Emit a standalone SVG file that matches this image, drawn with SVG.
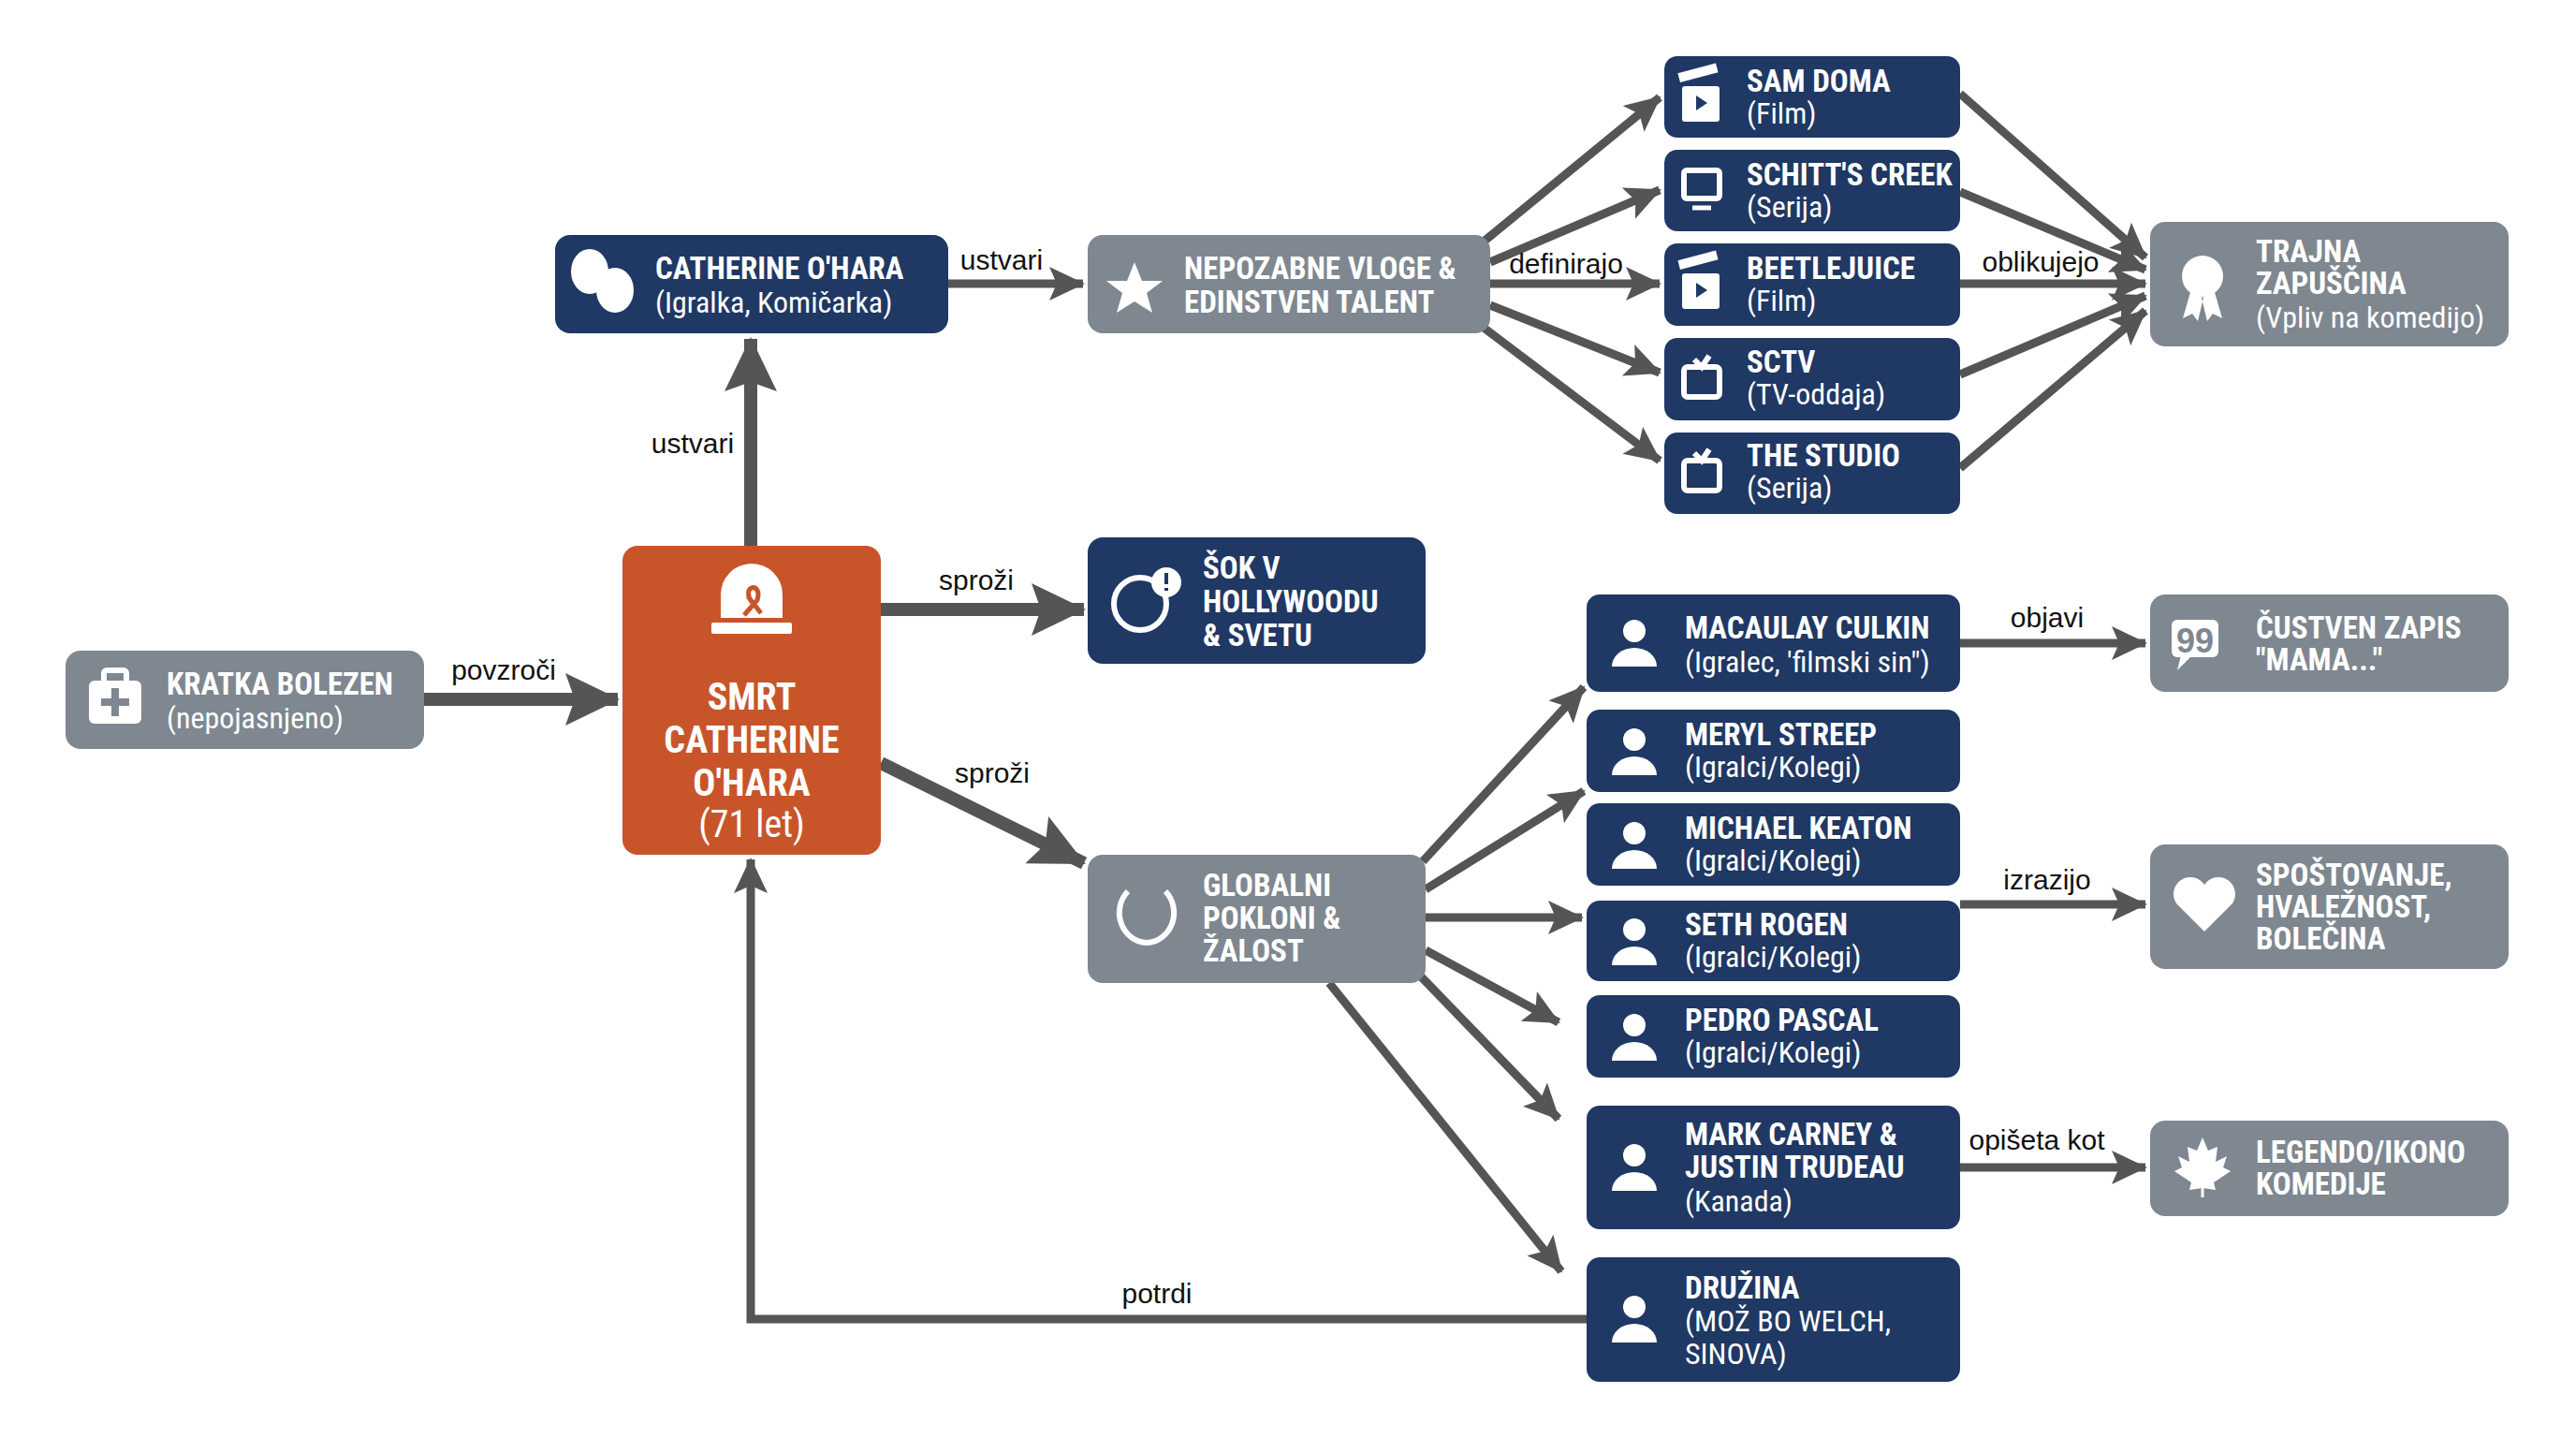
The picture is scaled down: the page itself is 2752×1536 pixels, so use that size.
<svg xmlns="http://www.w3.org/2000/svg" width="2752" height="1536" viewBox="0 0 2752 1536">
<defs>
<marker id="ah" markerUnits="userSpaceOnUse" markerWidth="40" markerHeight="40" refX="36" refY="20" orient="auto"><path d="M0,2 L38,20 L0,38 L8,20 Z" fill="#555"/></marker>
<marker id="ahb" markerUnits="userSpaceOnUse" markerWidth="60" markerHeight="60" refX="56" refY="30" orient="auto"><path d="M0,2 L58,30 L0,58 L10,30 Z" fill="#555"/></marker>
<style>
.navy{fill:#1F3864}.gray{fill:#7F8790}.org{fill:#C8552A}
.t{font-family:"Liberation Sans Narrow","Roboto Condensed","Liberation Sans",sans-serif;fill:#fff}
.b{font-weight:bold;font-size:33px}.s{font-size:32px}
.big-t{font-weight:bold;font-size:40px}
.l{font-family:"Liberation Sans Narrow","Liberation Sans",sans-serif;font-size:30px;fill:#111}
.c path,.c polyline{fill:none;stroke:#555;stroke-width:9;marker-end:url(#ah)}
.c .big{stroke-width:14;marker-end:url(#ahb)}
.ic{fill:#fff}.ics{fill:none;stroke:#fff;stroke-width:6}
</style>
</defs>
<rect width="2752" height="1536" fill="#fff"/>
<g class="c" id="connectors">
<path class="big" d="M453,747 H660"/><path class="big" d="M802,583 V362"/><path d="M1013,303 H1157"/>
<path d="M1585,258 L1773,104"/><path d="M1592,280 L1773,203"/><path d="M1592,303 H1773"/><path d="M1592,326 L1773,398"/><path d="M1585,350 L1773,492"/>
<path d="M2094,100 L2292,275"/><path d="M2094,205 L2292,288"/><path d="M2094,303 H2292"/><path d="M2094,400 L2292,316"/><path d="M2094,500 L2292,332"/>
<path class="big" d="M941,651 H1158"/><path class="big" d="M941,815 L1158,922"/>
<path d="M1520,920 L1692,734"/><path d="M1523,950 L1692,845"/><path d="M1523,980 H1690"/><path d="M1523,1015 L1665,1092"/><path d="M1515,1040 L1665,1195"/><path d="M1420,1050 L1668,1358"/>
<path d="M2094,687 H2292"/><path d="M2094,966 H2292"/><path d="M2094,1247 H2292"/>
<polyline points="1695,1409 802,1409 802,918"/>
</g>
<g id="labels">
<text class="l" x="538" y="726" text-anchor="middle">povzroči</text>
<text class="l" x="740" y="484" text-anchor="middle">ustvari</text>
<text class="l" x="1070" y="288" text-anchor="middle">ustvari</text>
<text class="l" x="1673" y="292" text-anchor="middle">definirajo</text>
<text class="l" x="2180" y="290" text-anchor="middle">oblikujejo</text>
<text class="l" x="1043" y="630" text-anchor="middle">sproži</text>
<text class="l" x="1060" y="836" text-anchor="middle">sproži</text>
<text class="l" x="2187" y="670" text-anchor="middle">objavi</text>
<text class="l" x="2187" y="950" text-anchor="middle">izrazijo</text>
<text class="l" x="2176" y="1228" text-anchor="middle">opišeta kot</text>
<text class="l" x="1236" y="1392" text-anchor="middle">potrdi</text>
</g>
<g id="kratka"><rect class="gray" x="70" y="695" width="383" height="105" rx="16"/>
<rect class="ic" x="95" y="727" width="56" height="46" rx="6"/><rect class="ics" x="111" y="716" width="24" height="14" rx="3"/><path d="M123,735 v30 M108,750 h30" stroke="#7F8790" stroke-width="8"/>
<text class="t b" x="178" y="742">KRATKA BOLEZEN</text><text class="t s" x="178" y="778">(nepojasnjeno)</text></g>
<g id="smrt"><rect class="org" x="665" y="583" width="276" height="330" rx="16"/>
<path class="ic" d="M770,660 v-25 a33,33 0 0 1 66,0 v25 z"/><rect class="ic" x="760" y="665" width="86" height="12" rx="2"/>
<path d="M803,643 c-12,-18 12,-22 6,-2 l-14,16 M799,637 l14,18" stroke="#C8552A" stroke-width="5" fill="none"/>
<text class="t big-t" x="803" y="758" text-anchor="middle">SMRT</text><text class="t big-t" x="803" y="804" text-anchor="middle">CATHERINE</text><text class="t big-t" x="803" y="850" text-anchor="middle">O'HARA</text><text class="t" x="803" y="894" text-anchor="middle" font-size="40">(71 let)</text></g>
<g id="catherine"><rect class="navy" x="593" y="251" width="420" height="105" rx="16"/>
<ellipse class="ic" cx="630" cy="290" rx="20" ry="24"/><ellipse class="ic" cx="657" cy="310" rx="20" ry="24"/>
<text class="t b" x="700" y="298">CATHERINE O'HARA</text><text class="t s" x="700" y="334">(Igralka, Komičarka)</text></g>
<g id="nepozabne"><rect class="gray" x="1162" y="251" width="430" height="105" rx="16"/>
<path class="ic" d="M1212,280 l8,20 22,0 -17,13 6,21 -19,-12 -19,12 6,-21 -17,-13 22,0z"/>
<text class="t b" x="1265" y="298">NEPOZABNE VLOGE &amp;</text><text class="t b" x="1265" y="334">EDINSTVEN TALENT</text></g>
<g id="samdoma"><rect class="navy" x="1778" y="60" width="316" height="87" rx="14"/><rect class="ic" x="1797" y="92" width="40" height="38" rx="3"/><rect class="ic" x="1795" y="78" width="42" height="10" transform="rotate(-15 1795 88)"/><path d="M1812,102 l12,8 -12,8z" fill="#1F3864"/>
<text class="t b" x="1866" y="98">SAM DOMA</text><text class="t s" x="1866" y="132">(Film)</text></g>
<g id="schitt"><rect class="navy" x="1778" y="160" width="316" height="87" rx="14"/><rect class="ics" x="1799" y="182" width="38" height="30" rx="3"/><path d="M1808,222 h20" stroke="#fff" stroke-width="5"/>
<text class="t b" x="1866" y="198">SCHITT'S CREEK</text><text class="t s" x="1866" y="232">(Serija)</text></g>
<g id="beetle"><rect class="navy" x="1778" y="260" width="316" height="88" rx="14"/><rect class="ic" x="1797" y="292" width="40" height="38" rx="3"/><rect class="ic" x="1795" y="278" width="42" height="10" transform="rotate(-15 1795 288)"/><path d="M1812,302 l12,8 -12,8z" fill="#1F3864"/>
<text class="t b" x="1866" y="298">BEETLEJUICE</text><text class="t s" x="1866" y="332">(Film)</text></g>
<g id="sctv"><rect class="navy" x="1778" y="361" width="316" height="88" rx="14"/><rect class="ics" x="1799" y="392" width="38" height="32" rx="4"/><path d="M1810,384 l8,8 8,-12" class="ics" stroke-width="4"/>
<text class="t b" x="1866" y="398">SCTV</text><text class="t s" x="1866" y="432">(TV-oddaja)</text></g>
<g id="studio"><rect class="navy" x="1778" y="462" width="316" height="87" rx="14"/><rect class="ics" x="1799" y="492" width="38" height="32" rx="4"/><path d="M1810,484 l8,8 8,-12" class="ics" stroke-width="4"/>
<text class="t b" x="1866" y="498">THE STUDIO</text><text class="t s" x="1866" y="532">(Serija)</text></g>
<g id="trajna"><rect class="gray" x="2297" y="237" width="383" height="133" rx="16"/><circle class="ic" cx="2353" cy="295" r="22"/><path class="ic" d="M2340,312 l-8,28 10,-5 6,8 6,-25z M2366,312 l8,28 -10,-5 -6,8 -6,-25z"/>
<text class="t b" x="2410" y="280">TRAJNA</text><text class="t b" x="2410" y="314">ZAPUŠČINA</text><text class="t s" x="2410" y="350">(Vpliv na komedijo)</text></g>
<g id="sok"><rect class="navy" x="1162" y="574" width="361" height="135" rx="16"/><circle class="ics" cx="1218" cy="645" r="28"/><circle class="ic" cx="1246" cy="622" r="16"/><path d="M1246,612 v12 M1246,628 v3" stroke="#1F3864" stroke-width="4"/>
<text class="t b" x="1285" y="618">ŠOK V</text><text class="t b" x="1285" y="654">HOLLYWOODU</text><text class="t b" x="1285" y="690">&amp; SVETU</text></g>
<g id="globalni"><rect class="gray" x="1162" y="913" width="361" height="137" rx="16"/><path class="ics" d="M1205,952 a30,32 0 0 0 20,55 M1245,952 a30,32 0 0 1 -20,55"/>
<text class="t b" x="1285" y="957">GLOBALNI</text><text class="t b" x="1285" y="992">POKLONI &amp;</text><text class="t b" x="1285" y="1027">ŽALOST</text></g>
<g id="macaulay"><rect class="navy" x="1695" y="635" width="399" height="104" rx="14"/><circle class="ic" cx="1746" cy="674" r="12"/><path class="ic" d="M1722,712 a24,20 0 0 1 48,0z"/>
<text class="t b" x="1800" y="682">MACAULAY CULKIN</text><text class="t s" x="1800" y="718">(Igralec, 'filmski sin")</text></g>
<g id="meryl"><rect class="navy" x="1695" y="758" width="399" height="88" rx="14"/><circle class="ic" cx="1746" cy="790" r="12"/><path class="ic" d="M1722,828 a24,20 0 0 1 48,0z"/>
<text class="t b" x="1800" y="796">MERYL STREEP</text><text class="t s" x="1800" y="830">(Igralci/Kolegi)</text></g>
<g id="michael"><rect class="navy" x="1695" y="858" width="399" height="88" rx="14"/><circle class="ic" cx="1746" cy="890" r="12"/><path class="ic" d="M1722,928 a24,20 0 0 1 48,0z"/>
<text class="t b" x="1800" y="896">MICHAEL KEATON</text><text class="t s" x="1800" y="930">(Igralci/Kolegi)</text></g>
<g id="seth"><rect class="navy" x="1695" y="962" width="399" height="86" rx="14"/><circle class="ic" cx="1746" cy="993" r="12"/><path class="ic" d="M1722,1031 a24,20 0 0 1 48,0z"/>
<text class="t b" x="1800" y="999">SETH ROGEN</text><text class="t s" x="1800" y="1033">(Igralci/Kolegi)</text></g>
<g id="pedro"><rect class="navy" x="1695" y="1063" width="399" height="88" rx="14"/><circle class="ic" cx="1746" cy="1095" r="12"/><path class="ic" d="M1722,1133 a24,20 0 0 1 48,0z"/>
<text class="t b" x="1800" y="1101">PEDRO PASCAL</text><text class="t s" x="1800" y="1135">(Igralci/Kolegi)</text></g>
<g id="mark"><rect class="navy" x="1695" y="1181" width="399" height="132" rx="14"/><circle class="ic" cx="1746" cy="1234" r="12"/><path class="ic" d="M1722,1272 a24,20 0 0 1 48,0z"/>
<text class="t b" x="1800" y="1223">MARK CARNEY &amp;</text><text class="t b" x="1800" y="1258">JUSTIN TRUDEAU</text><text class="t s" x="1800" y="1294">(Kanada)</text></g>
<g id="druzina"><rect class="navy" x="1695" y="1343" width="399" height="133" rx="14"/><circle class="ic" cx="1746" cy="1396" r="12"/><path class="ic" d="M1722,1434 a24,20 0 0 1 48,0z"/>
<text class="t b" x="1800" y="1387">DRUŽINA</text><text class="t s" x="1800" y="1422">(MOŽ BO WELCH,</text><text class="t s" x="1800" y="1457">SINOVA)</text></g>
<g id="custven"><rect class="gray" x="2297" y="635" width="383" height="104" rx="16"/><rect class="ic" x="2320" y="662" width="50" height="40" rx="6"/><path class="ic" d="M2330,700 l-4,16 14,-14z"/><text x="2345" y="697" text-anchor="middle" font-family="Liberation Sans" font-weight="bold" font-size="36" fill="#7F8790">99</text>
<text class="t b" x="2410" y="682">ČUSTVEN ZAPIS</text><text class="t b" x="2410" y="716">"MAMA..."</text></g>
<g id="spostovanje"><rect class="gray" x="2297" y="902" width="383" height="133" rx="16"/><path class="ic" d="M2355,995 l-30,-30 a16,16 0 0 1 30,-20 a16,16 0 0 1 30,20z"/>
<text class="t b" x="2410" y="946">SPOŠTOVANJE,</text><text class="t b" x="2410" y="980">HVALEŽNOST,</text><text class="t b" x="2410" y="1014">BOLEČINA</text></g>
<g id="legendo"><rect class="gray" x="2297" y="1197" width="383" height="102" rx="16"/><path class="ic" d="M2353,1215 l6,14 10,-4 -2,16 12,-6 -4,12 8,4 -18,12 2,8 -14,-2 -14,2 2,-8 -18,-12 8,-4 -4,-12 12,6 -2,-16 10,4z"/><path d="M2353,1265 v14" stroke="#fff" stroke-width="3"/>
<text class="t b" x="2410" y="1242">LEGENDO/IKONO</text><text class="t b" x="2410" y="1276">KOMEDIJE</text></g>
</svg>
